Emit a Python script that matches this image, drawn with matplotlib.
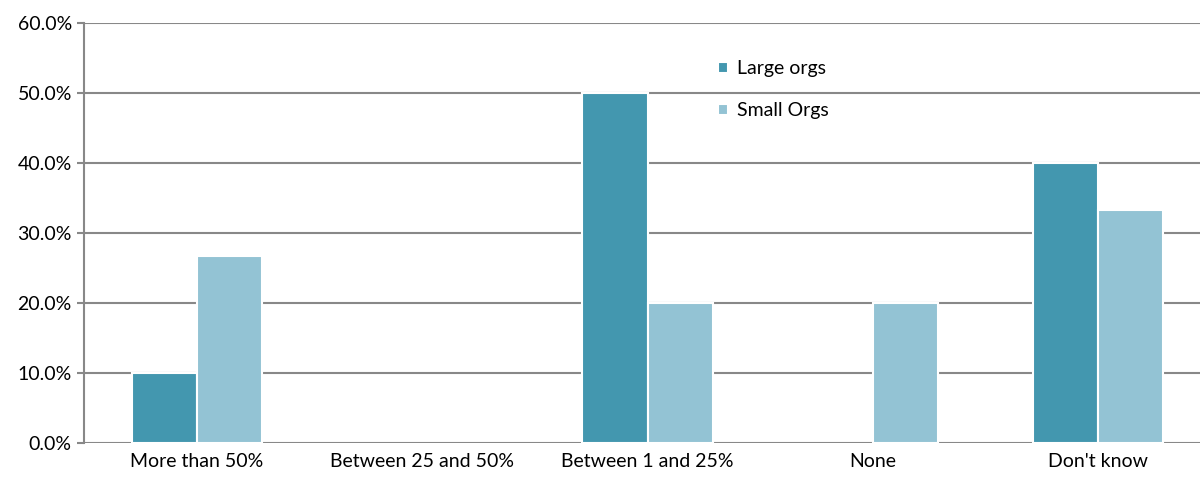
import numpy as np
import matplotlib.pyplot as plt
from matplotlib.ticker import FuncFormatter

categories = ["More than 50%", "Between 25 and 50%", "Between 1 and 25%", "None", "Don't know"]
large_orgs = [10.0, 0.0, 50.0, 0.0, 40.0]
small_orgs = [26.7, 0.0, 20.0, 20.0, 33.3]

plt.rcParams['font.family'] = ['Lato', 'DejaVu Sans']

fig = plt.figure(figsize=(12, 4.78), dpi=100)
# plot area runs a little past the right edge of the image, as in the original
ax = fig.add_axes([0.0703, 0.073, 0.9387, 0.879])

x = np.arange(len(categories))
w = 0.289
ax.bar(x - w / 2, large_orgs, w, color='#4397AF', edgecolor='white',
       linewidth=[1.5 if v > 0 else 0 for v in large_orgs], label='Large orgs', zorder=3)
ax.bar(x + w / 2, small_orgs, w, color='#93C3D4', edgecolor='white',
       linewidth=[1.5 if v > 0 else 0 for v in small_orgs], label='Small Orgs', zorder=3)

ax.set_xlim(-0.5, len(categories) - 0.5)
ax.set_ylim(0, 60)
ax.set_yticks(np.arange(0, 61, 10))
ax.yaxis.set_major_formatter(FuncFormatter(lambda v, p: f"{v:.1f}%"))
ax.set_xticks(x)
ax.set_xticklabels(categories)
ax.grid(axis='y', color='#888888', linewidth=1.5, zorder=0)
ax.set_axisbelow(True)

for s in ['top', 'right', 'bottom']:
    ax.spines[s].set_visible(False)
ax.spines['left'].set_color('#888888')
ax.spines['left'].set_linewidth(1.5)
ax.tick_params(axis='y', length=5, color='#888888', width=1.5, labelsize=14, pad=4)
ax.tick_params(axis='x', length=0, labelsize=14, pad=7)

ax.legend(loc='upper left', bbox_to_anchor=(0.547, 0.953), frameon=False, fontsize=14,
          handlelength=0.5, handleheight=0.5, handletextpad=0.5, labelspacing=1.3)

fig.savefig('out.png')
